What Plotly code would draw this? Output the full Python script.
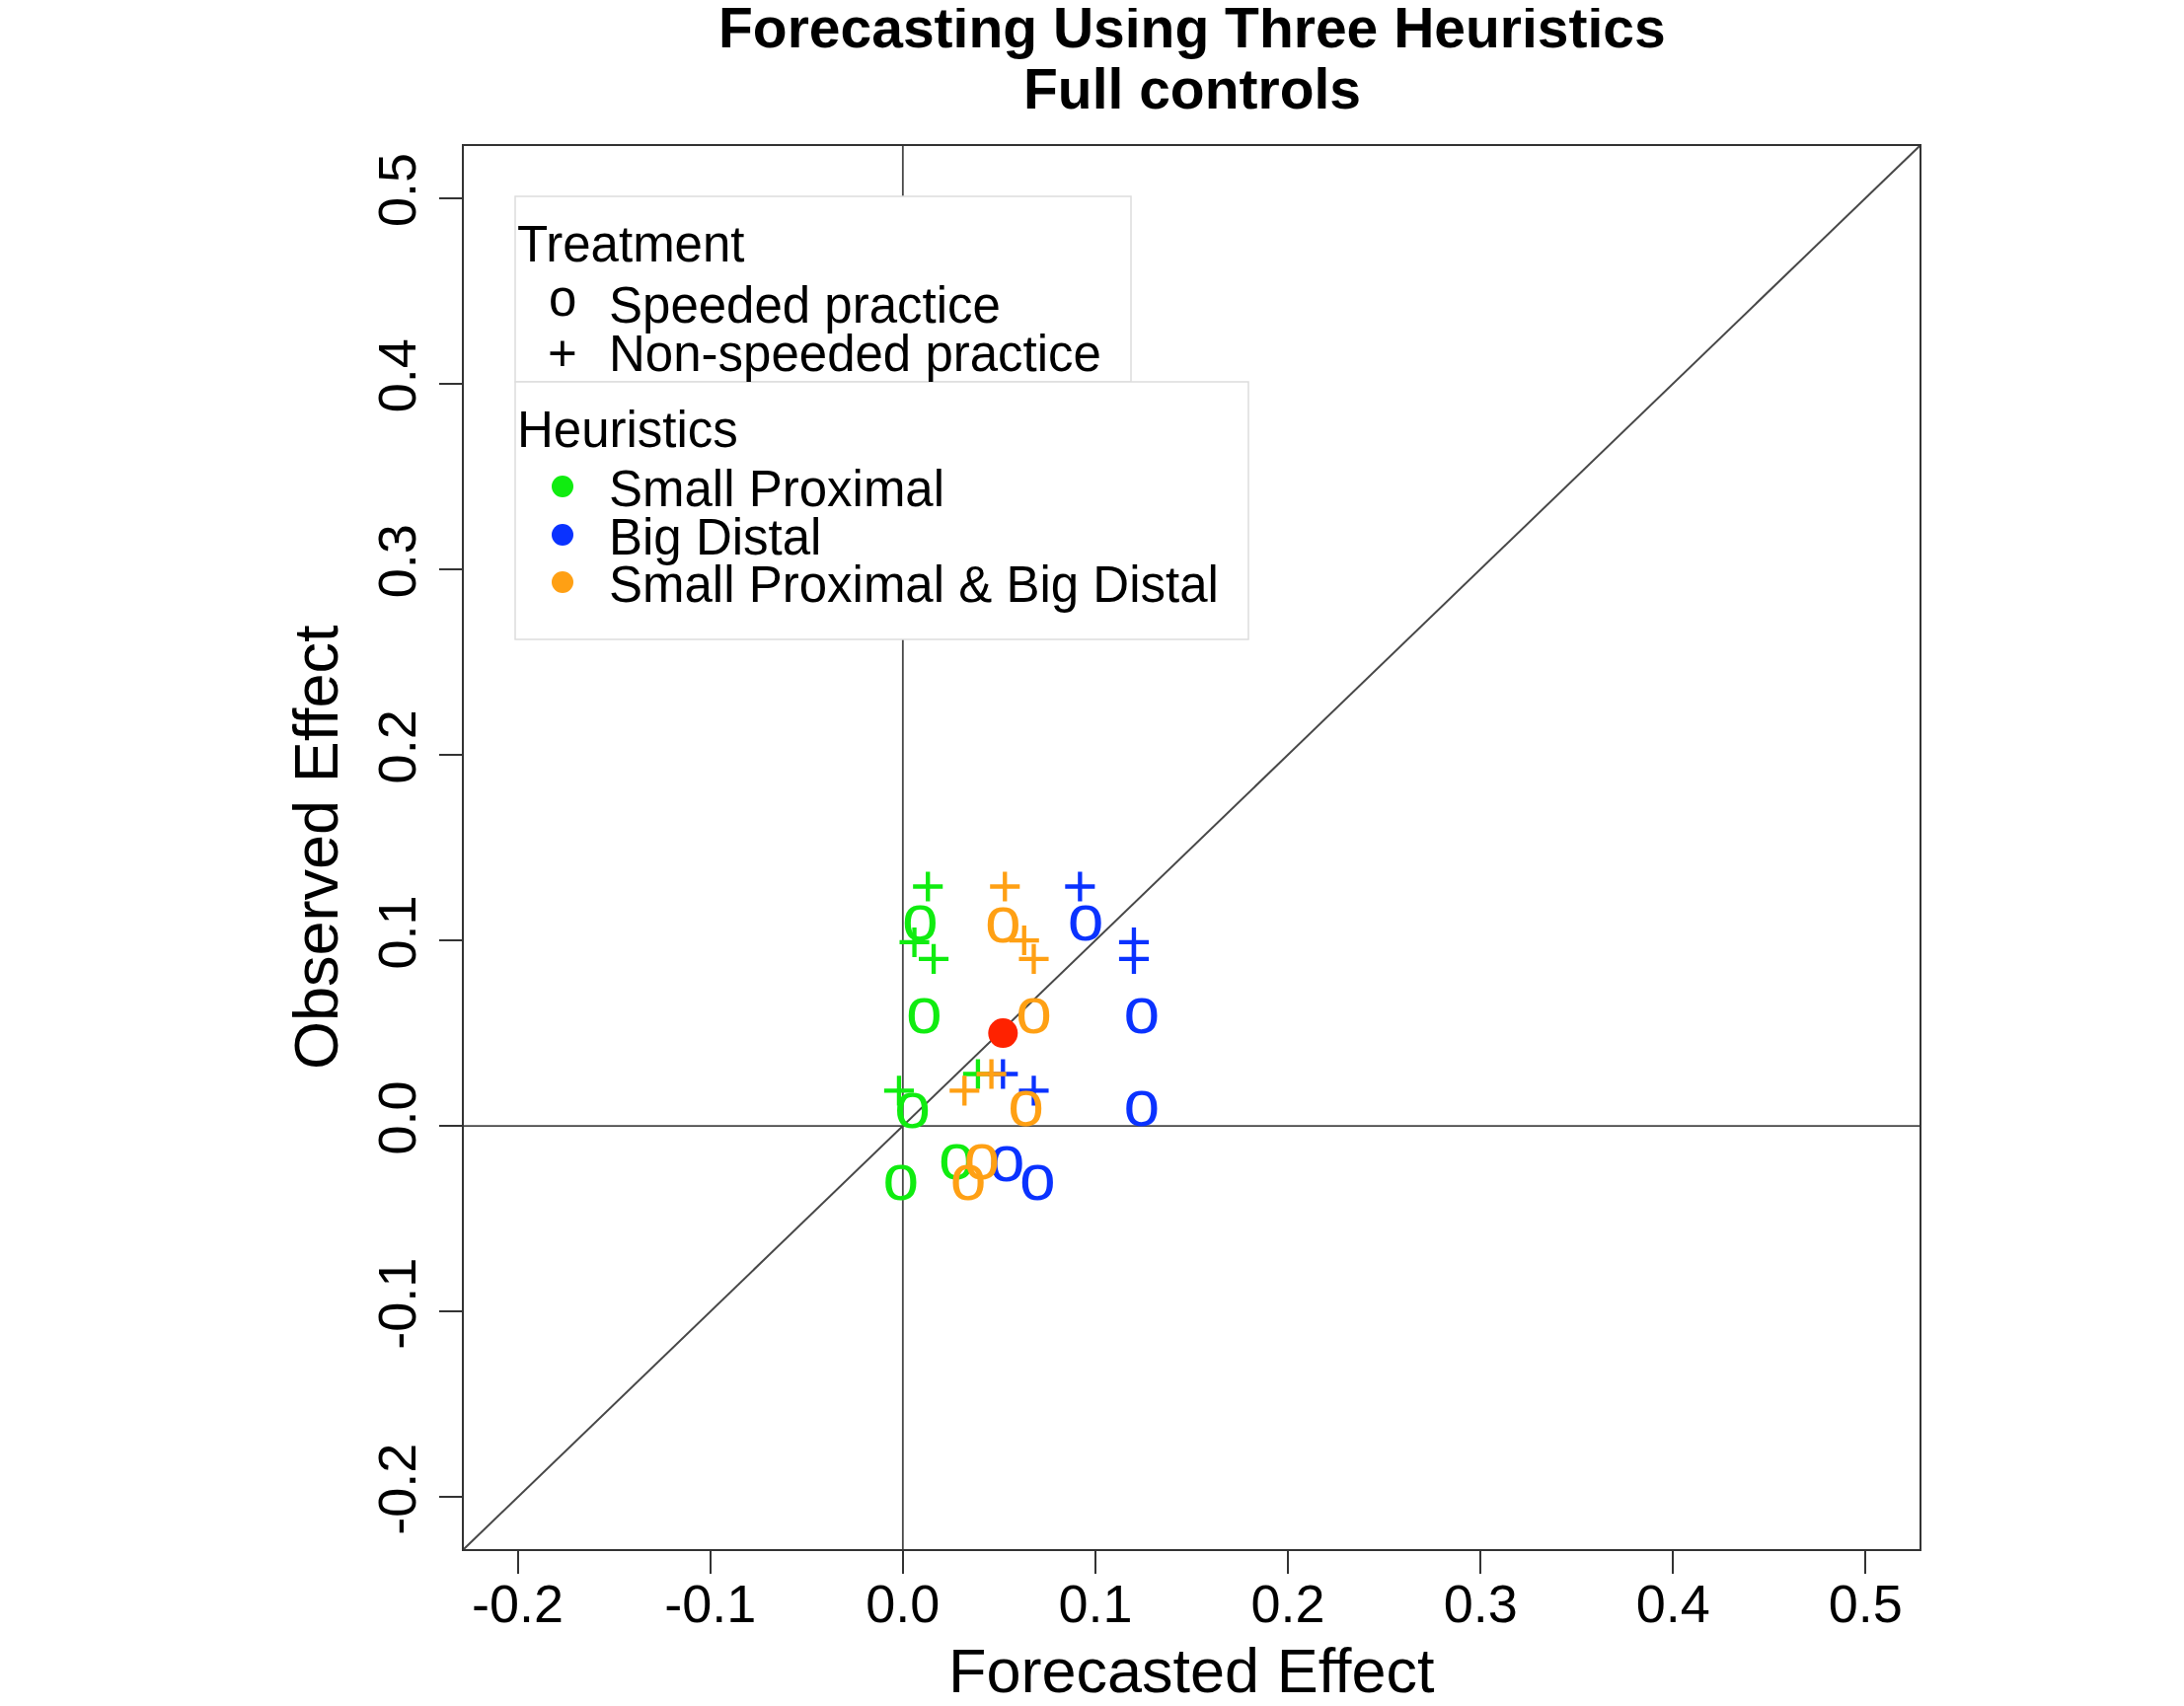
import plotly.graph_objects as go

# ---------------- data ----------------
heuristics = ["Small Proximal", "Big Distal", "Small Proximal & Big Distal"]
heur_colors = ["#10EC10", "#0A32FF", "#FFA014"]
treatments = ["Speeded practice", "Non-speeded practice"]
treat_chars = ["o", "+"]

# Small Proximal
sp_speeded_x = [0.009, 0.011, 0.005, 0.028, -0.001]
sp_speeded_y = [0.109, 0.059, 0.008, -0.020, -0.031]
sp_nonspeeded_x = [0.013, 0.006, 0.016, 0.039, -0.002]
sp_nonspeeded_y = [0.129, 0.099, 0.090, 0.028, 0.019]
# Big Distal
bd_speeded_x = [0.095, 0.124, 0.124, 0.054, 0.070]
bd_speeded_y = [0.109, 0.059, 0.009, -0.021, -0.031]
bd_nonspeeded_x = [0.092, 0.120, 0.120, 0.052, 0.068]
bd_nonspeeded_y = [0.129, 0.099, 0.090, 0.028, 0.019]
# Small Proximal & Big Distal
both_speeded_x = [0.052, 0.068, 0.064, 0.041, 0.034]
both_speeded_y = [0.108, 0.059, 0.009, -0.020, -0.031]
both_nonspeeded_x = [0.053, 0.063, 0.068, 0.046, 0.032]
both_nonspeeded_y = [0.129, 0.100, 0.090, 0.028, 0.019]
# grand mean
mean_x = [0.052]
mean_y = [0.050]

tick_vals = [-0.2, -0.1, 0.0, 0.1, 0.2, 0.3, 0.4, 0.5]
tick_text = ["-0.2", "-0.1", "0.0", "0.1", "0.2", "0.3", "0.4", "0.5"]
lim = [-0.2, 0.5]
pad = 0.04 * (lim[1] - lim[0])
axis_range = [lim[0] - pad, lim[1] + pad]

title_line1 = "Forecasting Using Three Heuristics"
title_line2 = "Full controls"
x_title = "Forecasted Effect"
y_title = "Observed Effect"

# ---------------- layout geometry ----------------
# page body has an 8px margin; the figure is sized to fit inside it
OFF = 8
WIN_W, WIN_H = 2213, 1729
W, H = WIN_W - 2 * OFF, WIN_H - 2 * OFF
# plot area in window pixels
L, R, T, B = 470, 1945, 148, 1570
FONT = "Liberation Sans, Arial, Helvetica, sans-serif"


def px(x):
    return (x - L) / (R - L)


def py(y):
    return (B - y) / (B - T)


speeded = [
    (sp_speeded_x, sp_speeded_y, 0),
    (bd_speeded_x, bd_speeded_y, 1),
    (both_speeded_x, both_speeded_y, 2),
]
nonspeeded = [
    (sp_nonspeeded_x, sp_nonspeeded_y, 0),
    (bd_nonspeeded_x, bd_nonspeeded_y, 1),
    (both_nonspeeded_x, both_nonspeeded_y, 2),
]

fig = go.Figure()
# per heuristic: speeded (o) then non-speeded (+)
for (sx, sy, hi), (nx, ny, _) in zip(speeded, nonspeeded):
    fig.add_trace(go.Scatter(
        x=sx, y=sy, mode="text",
        text=[treat_chars[0]] * len(sx),
        textposition="middle center",
        textfont=dict(family=FONT, size=66, color=heur_colors[hi]),
        name=f"{heuristics[hi]} - {treatments[0]}",
        showlegend=False, hoverinfo="skip",
    ))
    fig.add_trace(go.Scatter(
        x=nx, y=ny, mode="markers",
        marker=dict(symbol="cross-thin-open", size=21.5,
                    color=heur_colors[hi],
                    line=dict(color=heur_colors[hi], width=4.3)),
        name=f"{heuristics[hi]} - {treatments[1]}",
        showlegend=False, hoverinfo="skip",
    ))

fig.add_trace(go.Scatter(
    x=mean_x, y=mean_y, mode="markers",
    marker=dict(size=30, color="#FF2200", line=dict(width=0)),
    showlegend=False, hoverinfo="skip", name="Mean",
))

line_col = "#484848"
shapes = [
    dict(type="line", xref="x", yref="paper", x0=0, x1=0, y0=0, y1=1,
         line=dict(color=line_col, width=1.8), layer="below"),
    dict(type="line", xref="paper", yref="y", x0=0, x1=1, y0=0, y1=0,
         line=dict(color=line_col, width=1.8), layer="below"),
    dict(type="line", xref="x", yref="y", x0=axis_range[0], y0=axis_range[0],
         x1=axis_range[1], y1=axis_range[1],
         line=dict(color=line_col, width=2), layer="below"),
    # legend boxes
    dict(type="rect", xref="paper", yref="paper", x0=px(522), x1=px(1146),
         y0=py(387), y1=py(199), fillcolor="white",
         line=dict(color="#DDDDDD", width=1.5), layer="above"),
    dict(type="rect", xref="paper", yref="paper", x0=px(522), x1=px(1265),
         y0=py(648), y1=py(387), fillcolor="white",
         line=dict(color="#DDDDDD", width=1.5), layer="above"),
]

annotations = []
LEG_FS = 51


def add_text(text, x, y, size, xanchor="left", bold=False, angle=0, color="black"):
    annotations.append(dict(
        text=f"<b>{text}</b>" if bold else text,
        xref="paper", yref="paper", x=px(x), y=py(y),
        xanchor=xanchor, yanchor="middle", showarrow=False,
        textangle=angle,
        font=dict(family=FONT, size=size, color=color),
    ))


# legend texts
add_text("Treatment", 522, 247.5, LEG_FS)
add_text(treatments[0], 615, 309.5, LEG_FS)
add_text(treatments[1], 615, 358, LEG_FS)
add_text(treat_chars[0], 570, 302, LEG_FS, xanchor="center")
add_text(treat_chars[1], 570, 358, LEG_FS, xanchor="center")
add_text("Heuristics", 522, 435.5, LEG_FS)
leg_y = [495, 544, 592]
for i, name in enumerate(heuristics):
    add_text(name, 615, leg_y[i], LEG_FS)
    shapes.append(dict(
        type="circle", xref="paper", yref="paper",
        xsizemode="pixel", ysizemode="pixel",
        xanchor=px(570), yanchor=py(leg_y[i] - 2),
        x0=-11, x1=11, y0=-11, y1=11,
        fillcolor=heur_colors[i], line=dict(width=0), layer="above",
    ))

# titles
add_text(title_line1, 1207.5, 28, 57, xanchor="center", bold=True)
add_text(title_line2, 1207.5, 90, 57, xanchor="center", bold=True)
add_text(x_title, 1207.5, 1693, 63, xanchor="center")
add_text(y_title, 320, 859, 63, xanchor="center", angle=-90)

axis_common = dict(
    range=axis_range, tickmode="array", tickvals=tick_vals, ticktext=tick_text,
    ticks="outside", ticklen=23, tickwidth=2, tickcolor="#333333",
    showgrid=False, zeroline=False,
    showline=True, linecolor="#333333", linewidth=2, mirror=True,
    tickfont=dict(family=FONT, size=54, color="black"),
)

fig.update_layout(
    width=W, height=H,
    margin=dict(l=L - OFF, r=WIN_W - OFF - R, t=T - OFF, b=WIN_H - OFF - B, pad=0),
    paper_bgcolor="white", plot_bgcolor="white",
    xaxis=dict(**axis_common, ticklabelstandoff=-16),
    yaxis=dict(**axis_common, tickangle=-90, ticklabelstandoff=2),
    shapes=shapes, annotations=annotations,
    showlegend=False,
)

fig.write_html("out.html")
